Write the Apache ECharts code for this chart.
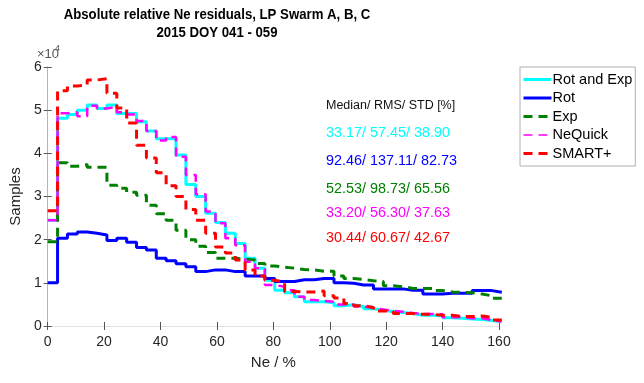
<!DOCTYPE html>
<html>
<head>
<meta charset="utf-8">
<script src="https://cdn.jsdelivr.net/npm/echarts@6/dist/echarts.min.js"></script>
<style>html,body{margin:0;padding:0;background:#fff}#c{width:644px;height:383px}</style>
</head>
<body>
<div id="c"></div>
<script>
// Histogram bin width (Ne / %) and bin counts (in units of 10^4 samples)
const binWidth = 3.5;
const rotAndExp = [2.45,4.81,4.90,5.00,5.12,5.04,5.12,4.92,4.92,4.73,4.52,4.34,4.34,3.96,3.28,3.00,2.61,2.40,2.15,1.91,1.57,1.34,1.06,0.83,0.77,0.68,0.56,0.56,0.54,0.47,0.49,0.45,0.40,0.37,0.33,0.31,0.29,0.25,0.25,0.24,0.19,0.18,0.16,0.15,0.13,0.10];
const rot = [1.00,2.03,2.13,2.18,2.15,2.11,1.98,2.03,1.94,1.82,1.76,1.57,1.51,1.44,1.37,1.26,1.30,1.30,1.26,1.26,1.16,1.16,1.10,1.03,1.03,1.07,1.07,1.10,1.10,1.00,0.99,0.95,0.95,0.86,0.86,0.86,0.83,0.83,0.74,0.74,0.76,0.76,0.76,0.82,0.82,0.78];
const exp = [1.95,3.78,3.70,3.74,3.68,3.68,3.26,3.19,3.10,3.03,2.80,2.60,2.45,2.22,2.00,1.85,1.70,1.57,1.57,1.55,1.53,1.45,1.39,1.36,1.34,1.31,1.30,1.27,1.27,1.16,1.10,1.08,1.05,1.03,0.93,0.91,0.87,0.87,0.87,0.82,0.79,0.78,0.77,0.74,0.70,0.64];
const neQuick = [2.45,4.93,4.95,4.86,5.10,5.04,5.08,4.95,4.90,4.75,4.52,4.30,4.38,3.92,3.50,3.05,2.65,2.38,2.03,1.87,1.49,1.34,0.95,0.91,0.83,0.68,0.60,0.58,0.56,0.50,0.50,0.45,0.42,0.38,0.35,0.33,0.30,0.28,0.28,0.27,0.20,0.21,0.18,0.18,0.14,0.10];
const smartPlus = [2.67,5.45,5.56,5.58,5.70,5.73,5.39,5.05,4.70,4.19,3.89,3.55,3.25,3.00,2.70,2.45,2.15,1.83,1.69,1.53,1.30,1.16,1.06,1.02,0.80,0.79,0.79,0.81,0.70,0.65,0.52,0.47,0.43,0.35,0.34,0.29,0.29,0.27,0.27,0.25,0.25,0.22,0.22,0.23,0.20,0.14];
const seriesNames = ['Rot and Exp','Rot','Exp','NeQuick','SMART+'];
const titleLines = ['Absolute relative Ne residuals, LP Swarm A, B, C','2015 DOY 041 - 059'];
const statsHeader = 'Median/ RMS/ STD [%]';
const statsLines = ['33.17/ 57.45/ 38.90','92.46/ 137.11/ 82.73','52.53/ 98.73/ 65.56','33.20/ 56.30/ 37.63','30.44/ 60.67/ 42.67'];

function stepData(vals){
  const d = vals.map((v,i)=>[i*binWidth, v]);
  d.push([vals.length*binWidth, vals[vals.length-1]]);
  return d;
}
const FONT = 'Liberation Sans, Arial, Helvetica, sans-serif';
const colors = ['#00FFFF','#0000FF','#008000','#FF00FF','#FF0000'];
const dashes = ['solid','solid',[9,6],[9,6],[9,6]];
const widths = [3,3,3,2.5,3];
const legendWidths = [3,3,3,1.5,3];
const valsAll = [rotAndExp, rot, exp, neQuick, smartPlus];

const chart = echarts.init(document.getElementById('c'), null, {renderer:'canvas'});
const axisLabelStyle = {color:'#262626', fontFamily:FONT, fontSize:14};
chart.setOption({
  animation:false,
  backgroundColor:'#fff',
  grid:{left:36, right:145, top:67, bottom:57, containLabel:false},
  legend:{
    orient:'vertical', left:520, top:67,
    padding:[5,3,5,2], itemWidth:28, itemHeight:14, itemGap:3.5,
    borderColor:'#b0b0b0', borderWidth:1, backgroundColor:'#fff',
    itemStyle:{opacity:0},
    textStyle:{fontFamily:FONT, fontSize:14.5, color:'#000', padding:[0,0,0,-4]},
    data:seriesNames.map((n,k)=>({name:n, lineStyle:{width:legendWidths[k]}}))
  },
  xAxis:[{
    type:'value', min:0, max:160, interval:20, position:'bottom',
    name:'Ne / %', nameLocation:'middle', nameGap:29,
    nameTextStyle:{fontFamily:FONT, fontSize:15, color:'#262626'},
    axisLine:{lineStyle:{color:'#cfcfcf'}},
    axisTick:{inside:true, length:4, lineStyle:{color:'#555'}},
    axisLabel:Object.assign({margin:9}, axisLabelStyle),
    splitLine:{show:false}
  },{
    type:'value', min:0, max:160, interval:20, position:'top',
    axisLine:{show:true, lineStyle:{color:'#e2e2e2'}},
    axisTick:{inside:true, length:4, lineStyle:{color:'#555'}},
    axisLabel:{show:false}, splitLine:{show:false}
  }],
  yAxis:[{
    type:'value', min:0, max:6, interval:1, position:'left',
    name:'Samples', nameLocation:'middle', nameGap:22,
    nameTextStyle:{fontFamily:FONT, fontSize:15, color:'#262626'},
    axisLine:{show:true, lineStyle:{color:'#9a9a9a'}},
    axisTick:{show:true, inside:true, length:4, lineStyle:{color:'#555'}},
    axisLabel:Object.assign({margin:6}, axisLabelStyle),
    splitLine:{show:false}
  },{
    type:'value', min:0, max:6, interval:1, position:'right',
    axisLine:{show:true, lineStyle:{color:'#b5b5b5'}},
    axisTick:{show:true, inside:true, length:4, lineStyle:{color:'#555'}},
    axisLabel:{show:false}, splitLine:{show:false}
  }],
  series: valsAll.map((vals,k)=>({
    name:seriesNames[k], type:'line', step:'end', symbol:'none',
    data:stepData(vals), clip:true, z:2+k,
    lineStyle:{color:colors[k], width:widths[k], type:dashes[k]},
    itemStyle:{color:colors[k]}
  })),
  graphic:[
    {type:'text', x:217, y:15, scaleX:0.88, style:{text:titleLines[0], fill:'#000', font:'bold 15px '+FONT, align:'center', verticalAlign:'middle'}},
    {type:'text', x:217, y:33, scaleX:0.88, style:{text:titleLines[1], fill:'#000', font:'bold 15px '+FONT, align:'center', verticalAlign:'middle'}},
    {type:'text', left:37, top:48, style:{text:'×10', fill:'#555', font:'13px '+FONT}},
    {type:'text', left:55, top:44, style:{text:'4', fill:'#555', font:'9px '+FONT}},
    {type:'text', left:326, top:99, style:{text:statsHeader, fill:'#111', font:'12.5px '+FONT}}
  ].concat(statsLines.map((t,i)=>({
    type:'text', left:326, top:[126,154,182,206,231][i],
    style:{text:t, fill:colors[i], font:'14.4px '+FONT}
  })))
});
</script>
</body>
</html>
